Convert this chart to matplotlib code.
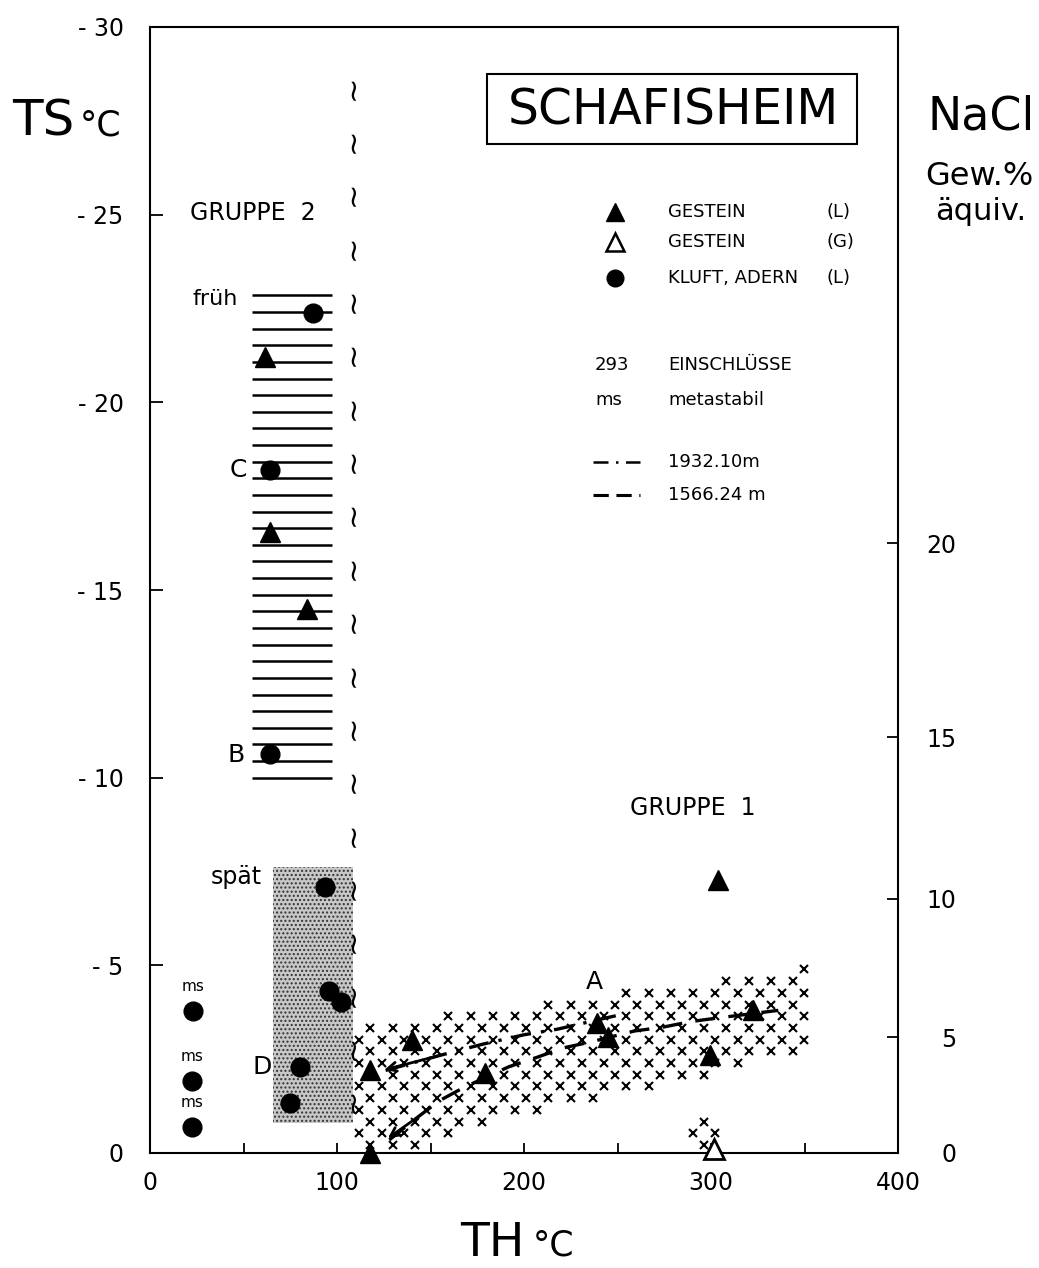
import numpy as np
import matplotlib
matplotlib.use("Agg")
import matplotlib.pyplot as plt
from matplotlib.path import Path
from matplotlib.patches import Rectangle

plt.rcParams['font.family'] = ['DejaVu Sans']

# Gestein (L), filled triangles: TH (degC), TS (degC)
gestein_l_th = [61.5, 64, 84, 117.6, 117.6, 140, 179, 239, 245, 322.5, 299.7, 303.7]
gestein_l_ts = [-21.2, -16.55, -14.5, -2.2, 0.0, -3.0, -2.13, -3.46, -3.1, -3.8, -2.6, -7.27]

# Gestein (G), open triangle
gestein_g_th = [301.5]
gestein_g_ts = [-0.1]

# Kluft, Adern (L), filled circles
kluft_th = [87.2, 64, 64, 93.6, 95.7, 102, 80.2, 74.9]
kluft_ts = [-22.38, -18.2, -10.63, -7.1, -4.32, -4.03, -2.3, -1.33]

# metastable points (ms)
ms_th = [22.8, 22.3, 22.3]
ms_ts = [-3.79, -1.92, -0.7]

# trend lines of the two depths
line_1932_th = [126, 155, 178, 200, 218, 244, 253]
line_1932_ts = [-2.2, -2.6, -2.9, -3.15, -3.3, -3.6, -3.7]
line_1566_th = [128, 143, 155, 168, 192, 207, 221, 235, 259, 274, 289, 304, 336]
line_1566_ts = [-0.35, -0.95, -1.4, -1.75, -2.3, -2.55, -2.8, -2.95, -3.25, -3.35, -3.5, -3.6, -3.8]

# Gruppe 2 range (frueh -> spaet), hatched band
g2_th = [54.5, 97.3]
g2_ts = [-10.0, -22.85]
# late stippled field
spaet_th = [65.8, 108.5]
spaet_ts = [-0.8, -7.62]

# Gruppe 1 field (x pattern)
band_th = [108, 180, 250, 300, 350, 350, 300, 250, 190, 155, 108]
band_ts = [-3.35, -3.8, -4.3, -4.6, -4.95, -2.75, -2.1, -1.6, -0.9, -0.25, -0.1]
patch_th = [288, 300, 314, 300]
patch_ts = [-0.55, -1.0, -0.55, 0.1]

# right axis: NaCl wt% eq. against TS
nacl_wt = [0, 5, 10, 15, 20]
nacl_ts = [0, -3.09, -6.77, -11.08, -16.25]

ts_ticks = [0, -5, -10, -15, -20, -25, -30]
th_ticks = [0, 100, 200, 300, 400]

point_labels = [("A", 237.8, -4.56), ("B", 46, -10.6), ("C", 47, -18.2), ("D", 60, -2.3)]

fig = plt.figure(figsize=(10.39, 12.68), dpi=100)
ax = fig.add_axes([150 / 1039, 115 / 1268, 748 / 1039, 1126 / 1268])
ax.set_xlim(0, 400)
ax.set_ylim(0, -30)

for sp in ax.spines.values():
    sp.set_linewidth(1.5)

ax.set_xticks(np.arange(0, 401, 50))
ax.set_xticklabels([str(v) if v in th_ticks else "" for v in np.arange(0, 401, 50)])
ax.tick_params(axis='x', direction='in', length=7, width=1.3, pad=13, labelsize=17)
ax.set_yticks(ts_ticks)
ax.set_yticklabels(["0" if v == 0 else f"- {abs(v)}" for v in ts_ticks])
ax.tick_params(axis='y', direction='in', length=9, width=1.3, pad=19, labelsize=17)

ax2 = ax.twinx()
ax2.set_ylim(ax.get_ylim())
ax2.set_yticks(nacl_ts)
ax2.set_yticklabels([str(v) for v in nacl_wt])
ax2.tick_params(axis='y', direction='in', length=8, width=1.3, pad=42, labelsize=17)
for lbl in ax2.get_yticklabels():
    lbl.set_horizontalalignment('right')
for sp in ax2.spines.values():
    sp.set_visible(False)

# Gruppe 2 horizontal hatching
levels = np.linspace(g2_ts[0], g2_ts[1], 30)
ax.hlines(levels, g2_th[0], g2_th[1], colors='black', linewidth=1.8, zorder=2)

# stippled late field
plt.rcParams['hatch.linewidth'] = 1.0
ax.fill([spaet_th[0], spaet_th[1], spaet_th[1], spaet_th[0]],
        [spaet_ts[0], spaet_ts[0], spaet_ts[1], spaet_ts[1]],
        facecolor='#c8c8c8', edgecolor='#333333', hatch='....', linewidth=0, zorder=1)

# break marks
for y in np.linspace(-1.4, -28.4, 20):
    ax.text(108.5, y, "~", fontsize=22, rotation=90,
            ha='center', va='center', zorder=3)


# x pattern fields
def x_lattice(th, ts, dx=11.9, dy=0.312):
    path = Path(np.column_stack([th, ts]))
    pts = []
    for i, y in enumerate(np.arange(0.1, -5.5, -dy)):
        off = dx / 2 if i % 2 else 0
        for x in np.arange(100 + off, 360, dx):
            pts.append((x, y))
    pts = np.array(pts)
    return pts[path.contains_points(pts)]


for th, ts in [(band_th, band_ts), (patch_th, patch_ts)]:
    p = x_lattice(th, ts)
    ax.plot(p[:, 0], p[:, 1], 'x', color='black', ms=5.5, mew=1.5, zorder=2)

# trend lines
ax.plot(line_1932_th, line_1932_ts, color='black', lw=2.4, ls=(0, (6, 3, 1, 3)), zorder=4)
ax.plot(line_1566_th, line_1566_ts, color='black', lw=2.4, ls=(0, (6, 4)), zorder=4)
for th, ts in [(line_1932_th, line_1932_ts), (line_1566_th, line_1566_ts)]:
    ax.annotate('', xy=(th[0] - 2, ts[0]), xytext=(th[1], ts[1]),
                arrowprops=dict(arrowstyle='->', lw=2, color='black', mutation_scale=16), zorder=4)

# data points
ax.plot(gestein_l_th, gestein_l_ts, '^', color='black', ms=15, zorder=5, clip_on=False)
ax.plot(gestein_g_th, gestein_g_ts, '^', mfc='white', mec='black', mew=2, ms=15, zorder=5, clip_on=False)
ax.plot(kluft_th, kluft_ts, 'o', color='black', ms=13.5, zorder=5)
ax.plot(ms_th, ms_ts, 'o', color='black', ms=13.5, zorder=5)
for th, ts in zip(ms_th, ms_ts):
    ax.text(th, ts - 0.45, "ms", fontsize=11, ha='center', va='bottom')

for lab, th, ts in point_labels:
    ax.text(th, ts, lab, fontsize=18, ha='center', va='center')

ax.text(54.8, -25.05, "GRUPPE  2", fontsize=17, ha='center', va='center')
ax.text(290, -9.2, "GRUPPE  1", fontsize=17, ha='center', va='center')
ax.text(47, -22.75, "früh", fontsize=16, ha='right', va='center')
ax.text(60, -7.35, "spät", fontsize=17, ha='right', va='center')

# title box
ax.add_patch(Rectangle((0.4505, 0.896), 0.4947, 0.062, transform=ax.transAxes,
                       fill=False, lw=1.5, edgecolor='black'))
ax.text(0.6999, 0.926, "SCHAFISHEIM", transform=ax.transAxes, fontsize=35,
        ha='center', va='center')

# legend
lx, tx = 0.6217, 0.6925
ax.plot([lx], [0.8357], '^', color='black', ms=13, transform=ax.transAxes)
ax.plot([lx], [0.809], '^', mfc='white', mec='black', mew=1.8, ms=13, transform=ax.transAxes)
ax.plot([lx], [0.777], 'o', color='black', ms=12, transform=ax.transAxes)
leg_rows = [("GESTEIN", "(L)", 0.8357), ("GESTEIN", "(G)", 0.809), ("KLUFT, ADERN", "(L)", 0.777)]
for name, ph, fy in leg_rows:
    ax.text(tx, fy, name, transform=ax.transAxes, fontsize=13, va='center')
    ax.text(0.905, fy, ph, transform=ax.transAxes, fontsize=13, va='center')
ax.text(0.595, 0.6998, "293", transform=ax.transAxes, fontsize=13, va='center')
ax.text(tx, 0.6998, "EINSCHLÜSSE", transform=ax.transAxes, fontsize=13, va='center')
ax.text(0.595, 0.6687, "ms", transform=ax.transAxes, fontsize=13, va='center')
ax.text(tx, 0.6687, "metastabil", transform=ax.transAxes, fontsize=13, va='center')
ax.plot([0.592, 0.655], [0.6137, 0.6137], color='black', lw=1.8, ls=(0, (6, 3, 1, 3)),
        transform=ax.transAxes)
ax.plot([0.592, 0.655], [0.5844, 0.5844], color='black', lw=2.2, ls=(0, (5, 2.5)),
        transform=ax.transAxes)
ax.text(tx, 0.6137, "1932.10m", transform=ax.transAxes, fontsize=13, va='center')
ax.text(tx, 0.5844, "1566.24 m", transform=ax.transAxes, fontsize=13, va='center')

# axis titles
H = 1268
fig.text(12 / 1039, 1 - 135 / H, "TS", fontsize=36, va='baseline')
fig.text(80 / 1039, 1 - 135 / H, "°C", fontsize=25, va='baseline')
fig.text(460 / 1039, 1 - 1256 / H, "TH", fontsize=34, va='baseline')
fig.text(533 / 1039, 1 - 1256 / H, "°C", fontsize=25, va='baseline')
fig.text(927 / 1039, 1 - 130 / H, "NaCl", fontsize=33, va='baseline')
fig.text(925 / 1039, 1 - 185 / H, "Gew.%", fontsize=23, va='baseline')
fig.text(935 / 1039, 1 - 220 / H, "äquiv.", fontsize=22, va='baseline')

fig.savefig("out.png", dpi=100)
